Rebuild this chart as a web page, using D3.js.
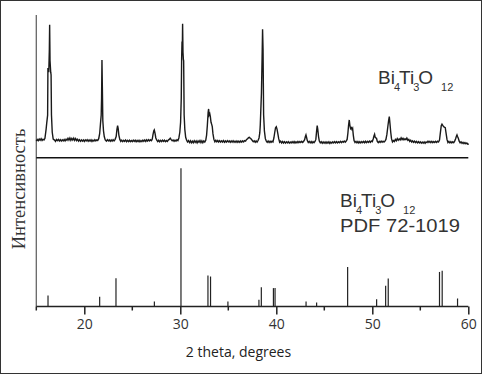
<!DOCTYPE html>
<html>
<head>
<meta charset="utf-8">
<script src="https://cdn.jsdelivr.net/npm/d3@7"></script>
<style>
  body { margin: 0; background: #fff; }
</style>
</head>
<body>
<div id="chart"></div>
<script>
// tick values of the 2 theta axis
var majorTicks = [20, 30, 40, 50, 60];
var minorTicks = [15, 25, 35, 45, 55];

// measured pattern: [2 theta, intensity]
var pattern = [
  [15.0,118],[15.1,130],[15.2,121],[15.3,133],[15.4,124],[15.5,135],[15.6,123],[15.7,131],[15.8,126],[15.9,138],
  [16.02,200],[16.08,240],[16.18,300],[16.21,630],[16.3,600],[16.36,760],[16.39,931],[16.43,680],[16.5,600],[16.54,581],[16.58,300],[16.66,180],[16.76,132],
  [16.9,125],[17.0,116],[17.1,129],[17.2,121],[17.3,130],[17.4,119],[17.5,128],[17.6,118],[17.7,127],[17.8,120],[17.9,129],[18.0,119],
  [18.1,131],[18.2,124],[18.3,138],[18.4,125],[18.5,140],[18.6,124],[18.7,137],[18.8,126],[18.9,139],[19.0,123],[19.1,136],[19.2,122],
  [19.3,131],[19.4,118],[19.5,128],[19.6,117],[19.7,127],[19.8,118],[19.9,126],[20.0,116],[20.1,127],[20.2,119],[20.3,128],[20.4,117],
  [20.5,126],[20.6,118],[20.7,127],[20.8,116],[20.9,125],[21.0,118],[21.1,128],[21.2,119],[21.3,127],[21.4,122],
  [21.5,135],[21.6,170],[21.68,235],[21.76,300],[21.8,420],[21.84,686],[21.88,500],[21.93,260],[22.0,190],[22.08,150],[22.18,126],
  [22.3,118],[22.4,128],[22.5,119],[22.6,127],[22.7,117],[22.8,126],[22.9,118],[23.0,128],[23.1,120],[23.2,129],
  [23.32,150],[23.4,200],[23.47,226],[23.53,205],[23.6,160],[23.7,130],
  [23.8,116],[23.9,125],[24.0,115],[24.1,124],[24.2,116],[24.3,126],[24.4,114],[24.5,123],[24.6,115],[24.7,124],[24.8,114],[24.9,122],
  [25.0,115],[25.1,125],[25.2,116],[25.3,124],[25.4,114],[25.5,123],[25.6,115],[25.7,124],[25.8,113],[25.9,122],[26.0,115],[26.1,125],
  [26.2,117],[26.3,126],[26.4,116],[26.5,127],[26.6,118],[26.7,128],[26.8,119],[26.9,127],[27.0,121],[27.08,132],
  [27.16,165],[27.24,190],[27.29,196],[27.36,175],[27.45,140],
  [27.55,124],[27.65,115],[27.75,124],[27.85,114],[27.95,123],[28.05,115],[28.15,125],[28.25,116],[28.35,124],[28.45,114],[28.55,122],
  [28.65,116],[28.75,125],[28.85,130],[28.95,138],[29.05,128],[29.15,120],[29.25,126],[29.35,116],[29.45,125],[29.55,118],[29.65,127],[29.75,122],
  [29.85,140],[29.95,180],[30.03,250],[30.1,420],[30.14,700],[30.18,814],[30.21,760],[30.24,938],[30.28,740],[30.32,690],[30.35,679],[30.4,300],[30.47,200],[30.56,145],[30.66,124],
  [30.75,112],[30.85,122],[30.95,108],[31.05,120],[31.15,106],[31.25,118],[31.35,107],[31.45,121],[31.55,109],[31.65,119],[31.75,106],
  [31.85,120],[31.95,110],[32.05,122],[32.15,108],[32.25,121],[32.35,107],[32.45,119],[32.55,112],[32.65,124],
  [32.74,160],[32.82,230],[32.9,320],[32.95,343],[33.0,300],[33.07,310],[33.13,289],[33.2,250],[33.27,235],[33.33,219],[33.4,170],[33.5,130],
  [33.6,114],[33.7,124],[33.8,113],[33.9,122],[34.0,112],[34.1,121],[34.2,111],[34.3,120],[34.4,112],[34.5,122],[34.6,110],[34.7,119],
  [34.8,111],[34.9,121],[35.0,112],[35.1,120],[35.2,110],[35.3,119],[35.4,111],[35.5,121],[35.6,110],[35.7,118],[35.8,109],[35.9,119],
  [36.0,110],[36.1,118],[36.2,109],[36.3,119],[36.4,111],[36.5,120],[36.6,112],[36.7,121],[36.8,118],[36.9,130],[37.0,134],[37.1,142],
  [37.2,144],[37.3,136],[37.4,132],[37.5,122],[37.6,114],[37.7,120],[37.8,110],[37.9,119],[38.0,111],[38.1,122],
  [38.2,140],[38.28,175],[38.33,230],[38.45,450],[38.52,700],[38.57,900],[38.62,760],[38.68,300],[38.76,190],[38.86,135],
  [38.95,120],[39.05,110],[39.15,119],[39.25,108],[39.35,118],[39.45,109],[39.55,117],[39.65,112],
  [39.75,140],[39.84,180],[39.92,212],[40.0,219],[40.08,200],[40.16,170],[40.25,135],
  [40.35,110],[40.45,118],[40.55,106],[40.65,115],[40.75,105],[40.85,114],[40.95,104],[41.05,113],[41.15,105],[41.25,114],[41.35,104],
  [41.45,112],[41.55,105],[41.65,114],[41.75,106],[41.85,115],[41.95,105],[42.05,113],[42.15,106],[42.25,116],[42.35,107],[42.45,115],
  [42.55,108],[42.65,116],[42.75,109],[42.85,117],
  [42.95,128],[43.03,150],[43.09,161],[43.15,145],[43.23,122],
  [43.33,108],[43.43,116],[43.53,106],[43.63,115],[43.73,105],[43.83,114],[43.93,107],[44.03,116],
  [44.12,130],[44.2,190],[44.26,226],[44.32,200],[44.4,150],[44.48,118],
  [44.58,106],[44.68,114],[44.78,103],[44.88,112],[44.98,104],[45.08,113],[45.18,103],[45.28,112],[45.38,104],[45.48,113],[45.58,102],
  [45.68,111],[45.78,104],[45.88,113],[45.98,105],[46.08,114],[46.18,106],[46.28,115],[46.38,106],[46.48,114],[46.58,107],[46.68,116],
  [46.78,108],[46.88,116],[46.98,110],[47.08,118],[47.18,111],[47.28,119],
  [47.38,130],[47.46,175],[47.53,230],[47.6,266],[47.66,230],[47.74,205],[47.82,212],[47.88,200],[47.95,208],[48.02,160],[48.1,122],
  [48.2,108],[48.3,116],[48.4,106],[48.5,115],[48.6,105],[48.7,114],[48.8,106],[48.9,115],[49.0,107],[49.1,116],[49.2,107],[49.3,117],
  [49.4,108],[49.5,117],[49.6,109],[49.7,118],[49.8,110],[49.9,119],[50.0,114],
  [50.1,135],[50.18,155],[50.24,166],[50.3,145],[50.37,140],[50.44,138],[50.52,116],
  [50.62,108],[50.72,117],[50.82,109],[50.92,118],[51.02,110],[51.12,117],[51.22,111],[51.32,118],
  [51.42,130],[51.52,165],[51.62,220],[51.7,262],[51.77,289],[51.84,240],[51.92,180],[52.0,135],
  [52.1,112],[52.2,122],[52.3,115],[52.4,130],[52.5,120],[52.6,136],[52.7,124],[52.8,134],[52.9,126],[53.0,141],[53.1,128],[53.2,138],
  [53.3,127],[53.4,135],[53.5,128],[53.6,140],[53.7,124],[53.8,130],[53.9,116],[54.0,124],[54.1,112],[54.2,120],[54.3,110],[54.4,118],
  [54.5,108],[54.6,116],[54.7,106],[54.8,114],[54.9,105],[55.0,113],[55.1,104],[55.2,112],[55.3,104],[55.4,113],[55.5,103],[55.6,112],
  [55.7,108],[55.8,118],[55.9,109],[56.0,117],[56.1,108],[56.2,116],[56.3,107],[56.4,115],[56.5,108],[56.6,116],[56.7,109],[56.8,117],[56.9,112],
  [57.0,125],[57.08,170],[57.18,225],[57.26,236],[57.34,228],[57.42,220],[57.5,215],[57.6,212],[57.68,175],[57.78,130],
  [57.88,108],[57.98,116],[58.08,106],[58.18,114],[58.28,105],[58.38,113],[58.48,107],[58.58,118],
  [58.68,135],[58.76,152],[58.82,161],[58.88,150],[58.96,138],[59.05,118],
  [59.15,106],[59.25,113],[59.35,103],[59.45,110],[59.55,101],[59.65,108],[59.75,99],[59.85,105],[59.95,96],[60.05,98]
];

// reference card PDF 72-1019: line positions and relative intensities
var pdfTheta = [16.22, 21.6, 23.3, 27.3, 30.07, 32.88, 33.15, 34.96, 38.19, 38.44, 39.7, 39.87,
                43.1, 44.2, 47.43, 50.45, 51.39, 51.66, 57.0, 57.28, 58.88];
var pdfInt   = [8, 7, 20.5, 3.6, 100, 22.4, 21.7, 3.6, 4.8, 14, 13.3, 13.3,
                3.6, 2.9, 28.5, 5.3, 15, 20.2, 25, 25.8, 5.8];

var W = 485, H = 375;
var svg = d3.select("#chart")
  .append("svg")
    .attr("width", W)
    .attr("height", H);

// frame
svg.append("rect")
  .attr("x", 0.5).attr("y", 0.5)
  .attr("width", 481).attr("height", 373)
  .attr("fill", "none")
  .attr("stroke", "#333")
  .attr("stroke-width", 1);

var x = d3.scaleLinear().domain([15, 60]).range([36.3, 468.3]);
var yTop = d3.scaleLinear().domain([0, 1000]).range([158, 15]);
var yBot = d3.scaleLinear().domain([0, 100]).range([306.5, 168.3]);

// left axis line
svg.append("line")
  .attr("x1", x(15)).attr("x2", x(15))
  .attr("y1", 15).attr("y2", yBot(0))
  .attr("stroke", "#666")
  .attr("stroke-width", 1.3);

// separator between the two panels
svg.append("line")
  .attr("x1", x(15)).attr("x2", x(60))
  .attr("y1", 157.7).attr("y2", 157.7)
  .attr("stroke", "#111")
  .attr("stroke-width", 1.5);

// measured pattern
svg.append("path")
  .datum(pattern)
  .attr("fill", "none")
  .attr("stroke", "#1a1a1a")
  .attr("stroke-width", 1.4)
  .attr("stroke-linejoin", "miter")
  .attr("d", d3.line()
    .x(function(d) { return x(d[0]); })
    .y(function(d) { return yTop(d[1]); }));

// PDF sticks
svg.append("g")
  .selectAll("line")
  .data(pdfTheta)
  .join("line")
    .attr("x1", function(d) { return x(d); })
    .attr("x2", function(d) { return x(d); })
    .attr("y1", yBot(0))
    .attr("y2", function(d, i) { return yBot(pdfInt[i]); })
    .attr("stroke", "#222")
    .attr("stroke-width", 1.2);

// x axis
var gx = svg.append("g")
  .attr("transform", "translate(0," + yBot(0) + ")");
gx.call(d3.axisBottom(x).tickValues(majorTicks).tickSize(8).tickFormat(d3.format("d")));
gx.select(".domain").remove();
gx.append("line")
  .attr("x1", x(15)).attr("x2", x(60))
  .attr("stroke", "#222")
  .attr("stroke-width", 1.5);
gx.selectAll(".tick line").attr("stroke", "#222").attr("stroke-width", 1.5);
gx.selectAll(".tick text")
  .attr("y", 13)
  .attr("font-family", "Open Sans")
  .attr("font-size", "14px")
  .attr("fill", "#333");
gx.selectAll(".minor")
  .data(minorTicks)
  .join("line")
    .attr("class", "minor")
    .attr("x1", function(d) { return x(d); })
    .attr("x2", function(d) { return x(d); })
    .attr("y1", 0).attr("y2", 4)
    .attr("stroke", "#222")
    .attr("stroke-width", 1.5);

// axis title
svg.append("text")
  .attr("x", 238.5)
  .attr("y", 357)
  .attr("text-anchor", "middle")
  .attr("font-family", "Open Sans")
  .attr("font-size", "14px")
  .attr("fill", "#222")
  .text("2 theta, degrees");

// y title
svg.append("text")
  .attr("transform", "translate(25,189) rotate(-90)")
  .attr("text-anchor", "middle")
  .attr("font-family", "Liberation Serif")
  .attr("font-size", "18.5px")
  .attr("fill", "#333")
  .text("Интенсивность");

// formula label with subscripts
function formula(g, px, py) {
  var t = g.append("text")
    .attr("x", px).attr("y", py)
    .attr("font-family", "Liberation Sans")
    .attr("font-size", "19px")
    .attr("fill", "#333");
  t.append("tspan").text("Bi");
  t.append("tspan").attr("font-size", "11px").attr("dy", 7).attr("dx", -1).text("4");
  t.append("tspan").attr("dy", -7).attr("dx", -1).text("Ti");
  t.append("tspan").attr("font-size", "11px").attr("dy", 7).attr("dx", -1).text("3");
  t.append("tspan").attr("dy", -7).attr("dx", -1).text("O");
  t.append("tspan").attr("font-size", "11px").attr("dy", 7).attr("dx", 8).text("12");
  return t;
}

formula(svg, 378, 84);
formula(svg, 340, 207);

svg.append("text")
  .attr("x", 340).attr("y", 232)
  .attr("font-family", "Liberation Sans")
  .attr("font-size", "19px")
  .attr("textLength", 120)
  .attr("lengthAdjust", "spacingAndGlyphs")
  .attr("fill", "#333")
  .text("PDF 72-1019");
</script>
</body>
</html>
